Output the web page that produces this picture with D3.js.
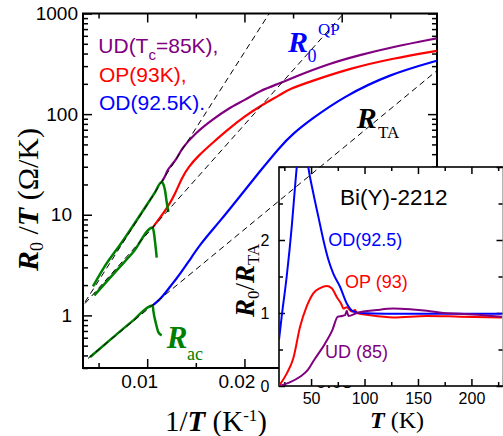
<!DOCTYPE html>
<html><head><meta charset="utf-8">
<script src="https://cdn.jsdelivr.net/npm/d3@7"></script>
<style>body{margin:0;background:#fff}svg{display:block}</style>
</head><body>
<svg id="c" width="503" height="436"></svg>
<script>
// ---------- DATA (main panel: R0/T vs 1/T) ----------
const udInvT = [0.01149,0.01183,0.01207,0.012345,0.013034,0.013548,0.014916,0.016633,0.01834,0.020057,0.021599,0.023656,0.025023,0.028457,0.031881,0.035305,0.039768];
const udR    = [21.2,23.8,27.7,29.9,35.7,45.6,64.3,87.2,114,138,171,203,231,312,387,467,567];
const opInvT = [0.010567,0.011317,0.01217,0.012859,0.013548,0.014227,0.015255,0.016633,0.01834,0.020057,0.021774,0.023656,0.024684,0.02674,0.030853,0.035305,0.039768];
const opR    = [7.46,9.33,12.15,16.0,23.1,29.7,38.6,50.9,70.9,95.5,123,155,179,210,285,358,426];
const odInvT = [0.010567,0.011317,0.01183,0.012345,0.013034,0.013374,0.014227,0.01543,0.017486,0.019543,0.021599,0.023656,0.025023,0.02674,0.030164,0.034966,0.039768];
const odR    = [1.257,1.443,1.655,1.921,2.334,2.588,3.37,5.09,8.62,15.28,27.1,47.3,64.3,87.2,149,250,339];
// R_ac (green)
const acUdInvT = [0.004428,0.005487,0.007544,0.0096,0.010803,0.011492,0.011677,0.01183,0.012006,0.01217];
const acUdR    = [1.944,2.915,5.58,11.09,16.7,21.2,19.9,17.5,13.4,10.66];
const acOpInvT = [0.004562,0.006865,0.008572,0.010567,0.0107,0.010803,0.010906,0.010978];
const acOpR    = [1.581,2.805,4.265,7.46,6.55,5.45,4.43,3.75];
const acOdInvT = [0.00412,0.006515,0.008572,0.010567,0.010628,0.010906,0.011142,0.011492];
const acOdR    = [0.3847,0.608,0.892,1.257,1.121,0.827,0.682,0.632];
// R_TA fits (dashed)
const taUdInvT = [0.003606,0.022545]; const taUdR = [1.356,1000];
const taOpInvT = [0.003606,0.030195]; const taOpR = [1.313,1000];
const taOdInvT = [0.003914,0.0398];   const taOdR = [0.3734,271];
// ticks
const mainYTicks = [1,10,100,1000];
const mainYLabels = ["1","10","100","1000"];
const mainXTicks = [0.01,0.02,0.03];
const mainXLabels = ["0.01","0.02","0.03"];
const mainXMinor = [0.005,0.015,0.025,0.035];

// ---------- DATA (inset: R0/R_TA vs T) ----------
const insOdT = [20,22.5,27.2,31.9,35,36.6,40,44,47.4,52.1,56.8,61.5,66.2,70.8,77.1,83.4,89.6,95.8,120,150,200,228.5];
const insOdV = [0.63,0.95,1.5,2.18,2.73,3.0,3.45,3.4,3.0,2.64,2.32,2.0,1.73,1.54,1.36,1.13,1.02,1.0,0.99,0.99,0.99,0.99];
const insOpT = [20,27.2,33.4,39.7,45.9,52.1,58.4,64.7,69.3,74,78.7,80.2,83.4,88.1,91.2,92.8,105.2,127,158.3,189.5,228.5];
const insOpV = [0,0.17,0.38,0.81,1.09,1.27,1.34,1.37,1.34,1.22,1.11,1.06,1.08,1.02,1.04,1.0,0.97,0.94,0.96,0.95,0.94];
const insUdT = [20,30,40,47,53,63,70,75,79,81.8,83.4,84.9,92.8,111.5,127,142.7,158.3,173.8,189.5,228.5];
const insUdV = [0,0.05,0.13,0.22,0.36,0.58,0.77,0.95,0.96,0.97,1.03,0.96,1.0,1.04,1.06,1.05,1.03,1.0,0.99,0.95];
const insXTicks = [50,100,150,200];
const insXMinor = [25,75,125,175,225];
const insYTicks = [0,1,2,3];
const insYLabels = ["0","1","2",""];
const insYMinor = [0.5,1.5,2.5];

// ---------- STYLE ----------
const PURPLE="#800080", RED="#ff0000", BLUE="#0000ff", GREEN="#008000";
const SANS="'Liberation Sans', Arial, Helvetica, sans-serif";
const SERIF="'Liberation Serif', 'Times New Roman', serif";

const svg = d3.select('#c');
const M = {l:83, r:437, t:13.5, b:368};
const I = {l:279, r:503.5, t:167, b:386};

const x = d3.scaleLinear().domain([0.0034,0.0398]).range([M.l,M.r]);
const y = d3.scaleLog().domain([0.3,1000]).range([M.b,M.t]);
const xi = d3.scaleLinear().domain([20,230]).range([I.l,I.r]);
const yi = d3.scaleLinear().domain([0,3]).range([I.b,I.t]);

const defs = svg.append('defs');
defs.append('clipPath').attr('id','cm').append('rect')
  .attr('x',M.l).attr('y',M.t).attr('width',M.r-M.l).attr('height',M.b-M.t);
defs.append('clipPath').attr('id','ci').append('rect')
  .attr('x',I.l).attr('y',I.t).attr('width',I.r-I.l).attr('height',I.b-I.t);

function styleAxis(g, size, fam){
  g.select('.domain').remove();
  g.selectAll('line').attr('stroke','#000').attr('stroke-width',1.5);
  g.selectAll('text').attr('font-size',size).attr('font-family',fam).attr('fill','#000');
}
function pathOf(xs, ys, xs_, ys_, curve){
  return d3.line().x(d=>xs_(d[0])).y(d=>ys_(d[1])).curve(curve||d3.curveMonotoneX)(d3.zip(xs,ys));
}

// ---------- MAIN PANEL ----------
const yMinor = y.ticks().filter(v => !mainYTicks.includes(v));
const yLabelDx = [-6,-6,0,0];

let gL = svg.append('g').attr('transform',`translate(${M.l},0)`)
  .call(d3.axisLeft(y).tickValues(mainYTicks).tickFormat((d,i)=>mainYLabels[i]).tickSizeInner(-9).tickSizeOuter(0).tickPadding(5));
styleAxis(gL,19,SANS);
gL.selectAll('text').attr('dx',(d,i)=>yLabelDx[i]);
styleAxis(svg.append('g').attr('transform',`translate(${M.l},0)`)
  .call(d3.axisLeft(y).tickValues(yMinor).tickFormat('').tickSizeInner(-5).tickSizeOuter(0)),19,SANS);
styleAxis(svg.append('g').attr('transform',`translate(${M.r},0)`)
  .call(d3.axisRight(y).tickValues(mainYTicks).tickFormat('').tickSizeInner(-9).tickSizeOuter(0)),19,SANS);
styleAxis(svg.append('g').attr('transform',`translate(${M.r},0)`)
  .call(d3.axisRight(y).tickValues(yMinor).tickFormat('').tickSizeInner(-5).tickSizeOuter(0)),19,SANS);
let gB = svg.append('g').attr('transform',`translate(0,${M.b})`)
  .call(d3.axisBottom(x).tickValues(mainXTicks).tickFormat((d,i)=>mainXLabels[i]).tickSizeInner(-9).tickSizeOuter(0).tickPadding(7));
styleAxis(gB,19,SANS);
gB.selectAll('text').attr('dx',-8);
styleAxis(svg.append('g').attr('transform',`translate(0,${M.b})`)
  .call(d3.axisBottom(x).tickValues(mainXMinor).tickFormat('').tickSizeInner(-5).tickSizeOuter(0)),19,SANS);
styleAxis(svg.append('g').attr('transform',`translate(0,${M.t})`)
  .call(d3.axisTop(x).tickValues(mainXTicks).tickFormat('').tickSizeInner(-9).tickSizeOuter(0)),19,SANS);
styleAxis(svg.append('g').attr('transform',`translate(0,${M.t})`)
  .call(d3.axisTop(x).tickValues(mainXMinor).tickFormat('').tickSizeInner(-5).tickSizeOuter(0)),19,SANS);

svg.append('rect').attr('x',M.l).attr('y',M.t).attr('width',M.r-M.l).attr('height',M.b-M.t)
  .attr('fill','none').attr('stroke','#000').attr('stroke-width',2);

const gm = svg.append('g').attr('clip-path','url(#cm)');
[[odInvT,odR,BLUE],[opInvT,opR,RED],[udInvT,udR,PURPLE]].forEach(([a,b,c])=>{
  gm.append('path').attr('d',pathOf(a,b,x,y,d3.curveBasis)).attr('fill','none').attr('stroke',c).attr('stroke-width',2.2);
});
[[acUdInvT,acUdR],[acOpInvT,acOpR],[acOdInvT,acOdR]].forEach(([a,b])=>{
  gm.append('path').attr('d',pathOf(a,b,x,y)).attr('fill','none').attr('stroke',GREEN).attr('stroke-width',2.5)
    .attr('stroke-linejoin','round');
});

// legend text in main panel
function legendLine(xp, yp, color, parts){
  const t = svg.append('text').attr('x',xp).attr('y',yp).attr('fill',color)
    .attr('font-family',SANS).attr('font-size',21);
  parts.forEach(p=>{ const s=t.append('tspan').text(p[0]); if(p[1]) s.attr('font-size',p[1]); if(p[2]) s.attr('dy',p[2]); });
}
legendLine(98.3,53.3,PURPLE,[["UD(T"],["c",15,6.5],["=85K),",null,-6.5]]);
legendLine(99,81.7,RED,[["OP(93K),"]]);
legendLine(99,110,BLUE,[["OD(92.5K)."]]);

function t(xp,yp,s,o){ const e=svg.append('text').attr('x',xp).attr('y',yp).text(s); Object.entries(o).forEach(([k,v])=>e.attr(k,v)); return e; }
const BI = {'font-family':SERIF,'font-weight':'bold','font-style':'italic'};
t(288,52,'R',{...BI,'font-size':30,fill:BLUE});
t(307.5,62,'0',{'font-family':SERIF,'font-size':18,fill:BLUE});
t(318,35,'QP',{'font-family':SERIF,'font-size':17,fill:BLUE});
t(356.7,128,'R',{...BI,'font-size':30,fill:'#000'});
t(378,138,'TA',{'font-family':SERIF,'font-size':17,fill:'#000'});
t(166.7,348,'R',{...BI,'font-size':31,fill:GREEN});
t(187,360,'ac',{'font-family':SERIF,'font-size':18,fill:GREEN});

// main x label
{
  const e = svg.append('text').attr('x',165).attr('y',431).attr('font-family',SERIF).attr('font-size',29).attr('fill','#000');
  e.append('tspan').text('1/');
  e.append('tspan').attr('font-weight','bold').attr('font-style','italic').text('T');
  e.append('tspan').text(' (K');
  e.append('tspan').attr('font-size',17).attr('dy',-10).text('-1');
  e.append('tspan').attr('dy',10).text(')');
}
// main y label
{
  const e = svg.append('text').attr('transform','translate(38,271) rotate(-90)')
    .attr('font-family',SERIF).attr('font-size',30).attr('fill','#000');
  e.append('tspan').attr('font-weight','bold').attr('font-style','italic').text('R');
  e.append('tspan').attr('font-size',18).attr('dy',5).text('0');
  e.append('tspan').attr('dy',-5).text(' /');
  e.append('tspan').attr('font-weight','bold').attr('font-style','italic').text('T');
  e.append('tspan').text(' (Ω/K)');
}

// ---------- INSET ----------
svg.append('rect').attr('x',I.l).attr('y',I.t).attr('width',I.r-I.l+5).attr('height',I.b-I.t).attr('fill','#fff');

let giB = svg.append('g').attr('transform',`translate(0,${I.b})`)
  .call(d3.axisBottom(xi).tickValues(insXTicks).tickSizeInner(-7).tickSizeOuter(0).tickPadding(7));
styleAxis(giB,16,SANS);
styleAxis(svg.append('g').attr('transform',`translate(0,${I.b})`)
  .call(d3.axisBottom(xi).tickValues(insXMinor).tickFormat('').tickSizeInner(-4).tickSizeOuter(0)),16,SANS);
styleAxis(svg.append('g').attr('transform',`translate(0,${I.t})`)
  .call(d3.axisTop(xi).tickValues(insXTicks).tickFormat('').tickSizeInner(-7).tickSizeOuter(0)),16,SANS);
styleAxis(svg.append('g').attr('transform',`translate(0,${I.t})`)
  .call(d3.axisTop(xi).tickValues(insXMinor).tickFormat('').tickSizeInner(-4).tickSizeOuter(0)),16,SANS);
let giL = svg.append('g').attr('transform',`translate(${I.l},0)`)
  .call(d3.axisLeft(yi).tickValues(insYTicks).tickFormat((d,i)=>insYLabels[i]).tickSizeInner(-6).tickSizeOuter(0).tickPadding(9.5));
styleAxis(giL,16,SANS);
styleAxis(svg.append('g').attr('transform',`translate(${I.l},0)`)
  .call(d3.axisLeft(yi).tickValues(insYMinor).tickFormat('').tickSizeInner(-4).tickSizeOuter(0)),16,SANS);
styleAxis(svg.append('g').attr('transform',`translate(${I.r-1},0)`)
  .call(d3.axisRight(yi).tickValues(insYTicks).tickFormat('').tickSizeInner(-6).tickSizeOuter(0)),16,SANS);
styleAxis(svg.append('g').attr('transform',`translate(${I.r-1},0)`)
  .call(d3.axisRight(yi).tickValues(insYMinor).tickFormat('').tickSizeInner(-4).tickSizeOuter(0)),16,SANS);

svg.append('rect').attr('x',I.l).attr('y',I.t).attr('width',I.r-I.l).attr('height',I.b-I.t)
  .attr('fill','none').attr('stroke','#000').attr('stroke-width',1.6);

const gi = svg.append('g').attr('clip-path','url(#ci)');
[[insOpT,insOpV,RED],[insOdT,insOdV,BLUE],[insUdT,insUdV,PURPLE]].forEach(([a,b,c])=>{
  gi.append('path').attr('d',pathOf(a,b,xi,yi)).attr('fill','none').attr('stroke',c).attr('stroke-width',2);
});

t(340,205,'Bi(Y)-2212',{'font-family':SANS,'font-size':22.5,fill:'#000'});
t(328.3,246,'OD(92.5)',{'font-family':SANS,'font-size':18,fill:BLUE});
t(345,288.3,'OP (93)',{'font-family':SANS,'font-size':18,fill:RED});
t(325,358.3,'UD (85)',{'font-family':SANS,'font-size':18,fill:PURPLE});

// inset x label
{
  const e = svg.append('text').attr('x',370).attr('y',428).attr('font-family',SERIF).attr('font-size',24).attr('fill','#000');
  e.append('tspan').attr('font-weight','bold').attr('font-style','italic').text('T');
  e.append('tspan').text(' (K)');
}
// inset y label
{
  const e = svg.append('text').attr('transform','translate(254,317) rotate(-90)')
    .attr('font-family',SERIF).attr('font-size',27).attr('fill','#000');
  e.append('tspan').attr('font-weight','bold').attr('font-style','italic').text('R');
  e.append('tspan').attr('font-size',17).attr('dy',5).text('0');
  e.append('tspan').attr('dy',-5).text('/');
  e.append('tspan').attr('font-weight','bold').attr('font-style','italic').text('R');
  e.append('tspan').attr('font-size',17).attr('dy',5).text('TA');
}

// ---------- R_TA dashed fits (on top) ----------
const gd = svg.append('g').attr('clip-path','url(#cm)');
[[taUdInvT,taUdR],[taOpInvT,taOpR],[taOdInvT,taOdR]].forEach(([a,b])=>{
  gd.append('path').attr('d',pathOf(a,b,x,y,d3.curveLinear)).attr('fill','none')
    .attr('stroke','#000').attr('stroke-width',1).attr('stroke-dasharray','6,4');
});
</script>
</body></html>
